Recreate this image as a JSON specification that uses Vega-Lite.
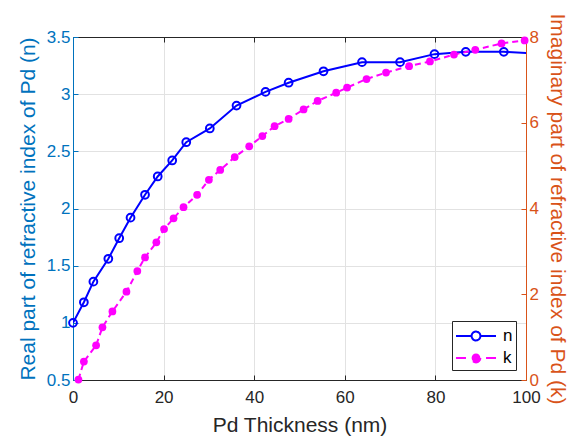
{
  "$schema": "https://vega.github.io/schema/vega-lite/v6.json",
  "width": 453,
  "height": 343,
  "autosize": {"type": "none"},
  "padding": {"left": 73, "top": 37, "right": 49, "bottom": 62},
  "background": "white",
  "config": {
    "font": "Liberation Sans",
    "view": {"stroke": null},
    "axis": {
      "labelFont": "Liberation Sans",
      "titleFont": "Liberation Sans",
      "labelFontSize": 17,
      "titleFontSize": 21,
      "titleFontWeight": "normal",
      "tickSize": -5,
      "tickWidth": 1,
      "domainWidth": 1,
      "gridColor": "#e2e2e2",
      "gridWidth": 1
    },
    "legend": {
      "symbolType": "M-1.82,0L-0.4,0M1.82,0L0.4,0M0.4,0A0.4,0.4,0,1,1,-0.4,0A0.4,0.4,0,1,1,0.4,0",
      "symbolSize": 484,
      "symbolStrokeWidth": 2,
      "symbolOffset": 9,
      "labelOffset": 15,
      "labelFontSize": 17,
      "labelColor": "#000000",
      "labelFont": "Liberation Sans",
      "strokeColor": "#262626",
      "fillColor": "white",
      "padding": 3,
      "rowPadding": 1,
      "cornerRadius": 0
    }
  },
  "datasets": {
    "nData": [
      {"thickness": 0, "value": 1.0, "series": "n"},
      {"thickness": 2.4, "value": 1.18, "series": "n"},
      {"thickness": 4.5, "value": 1.36, "series": "n"},
      {"thickness": 7.8, "value": 1.56, "series": "n"},
      {"thickness": 10.2, "value": 1.74, "series": "n"},
      {"thickness": 12.7, "value": 1.92, "series": "n"},
      {"thickness": 15.9, "value": 2.12, "series": "n"},
      {"thickness": 18.7, "value": 2.28, "series": "n"},
      {"thickness": 21.9, "value": 2.42, "series": "n"},
      {"thickness": 25.0, "value": 2.58, "series": "n"},
      {"thickness": 30.2, "value": 2.70, "series": "n"},
      {"thickness": 36.1, "value": 2.90, "series": "n"},
      {"thickness": 42.5, "value": 3.02, "series": "n"},
      {"thickness": 47.6, "value": 3.10, "series": "n"},
      {"thickness": 55.3, "value": 3.20, "series": "n"},
      {"thickness": 63.8, "value": 3.28, "series": "n"},
      {"thickness": 72.2, "value": 3.28, "series": "n"},
      {"thickness": 79.8, "value": 3.35, "series": "n"},
      {"thickness": 86.7, "value": 3.37, "series": "n"},
      {"thickness": 95.1, "value": 3.37, "series": "n"},
      {"thickness": 102, "value": 3.355, "series": "n"}
    ],
    "kData": [
      {"thickness": 1.2, "value": 0.01, "series": "k"},
      {"thickness": 2.4, "value": 0.43, "series": "k"},
      {"thickness": 5.1, "value": 0.81, "series": "k"},
      {"thickness": 6.5, "value": 1.23, "series": "k"},
      {"thickness": 8.7, "value": 1.6, "series": "k"},
      {"thickness": 11.8, "value": 2.06, "series": "k"},
      {"thickness": 14.2, "value": 2.54, "series": "k"},
      {"thickness": 15.9, "value": 2.86, "series": "k"},
      {"thickness": 18.4, "value": 3.21, "series": "k"},
      {"thickness": 20.1, "value": 3.52, "series": "k"},
      {"thickness": 22.2, "value": 3.77, "series": "k"},
      {"thickness": 24.4, "value": 4.03, "series": "k"},
      {"thickness": 27.4, "value": 4.32, "series": "k"},
      {"thickness": 30.0, "value": 4.67, "series": "k"},
      {"thickness": 32.5, "value": 4.9, "series": "k"},
      {"thickness": 35.7, "value": 5.2, "series": "k"},
      {"thickness": 38.9, "value": 5.45, "series": "k"},
      {"thickness": 41.8, "value": 5.69, "series": "k"},
      {"thickness": 44.5, "value": 5.92, "series": "k"},
      {"thickness": 47.6, "value": 6.09, "series": "k"},
      {"thickness": 50.9, "value": 6.31, "series": "k"},
      {"thickness": 54.0, "value": 6.51, "series": "k"},
      {"thickness": 58.1, "value": 6.70, "series": "k"},
      {"thickness": 60.5, "value": 6.82, "series": "k"},
      {"thickness": 64.8, "value": 7.02, "series": "k"},
      {"thickness": 69.1, "value": 7.17, "series": "k"},
      {"thickness": 74.2, "value": 7.32, "series": "k"},
      {"thickness": 78.8, "value": 7.43, "series": "k"},
      {"thickness": 84.1, "value": 7.59, "series": "k"},
      {"thickness": 88.8, "value": 7.70, "series": "k"},
      {"thickness": 94.6, "value": 7.85, "series": "k"},
      {"thickness": 99.7, "value": 7.92, "series": "k"}
    ]
  },
  "layer": [
    {
      "data": {"name": "nData"},
      "encoding": {
        "x": {
          "field": "thickness", "type": "quantitative",
          "scale": {"domain": [0, 100], "nice": false, "zero": false},
          "axis": {
            "orient": "bottom", "values": [0, 20, 40, 60, 80, 100],
            "title": "Pd Thickness (nm)", "grid": true,
            "domainColor": "#262626", "tickColor": "#262626",
            "labelColor": "#262626", "titleColor": "#262626",
            "labelPadding": 14, "titlePadding": 9, "labelFlush": false
          }
        },
        "y": {
          "field": "value", "type": "quantitative",
          "scale": {"domain": [0.5, 3.5], "nice": false, "zero": false},
          "axis": {
            "orient": "left", "values": [0.5, 1, 1.5, 2, 2.5, 3, 3.5], "format": "~g",
            "title": "Real part of refractive index of Pd (n)", "grid": true,
            "domainColor": "#0072BD", "tickColor": "#0072BD",
            "labelColor": "#0072BD", "titleColor": "#0072BD",
            "labelPadding": 8, "titlePadding": 8
          }
        },
        "color": {
          "field": "series", "type": "nominal",
          "scale": {"domain": ["n", "k"], "range": ["#0000FF", "#FF00FF"]},
          "legend": {
            "title": null, "orient": "bottom-right", "offset": 10,
            "encode": {"symbols": {"update": {
              "fill": [{"test": "datum.value === 'k'", "value": "#FF00FF"}, {"value": "#ffffff"}],
              "fillOpacity": [{"test": "datum.value === 'k'", "value": 1}, {"value": 0}],
              "strokeDash": [{"test": "datum.value === 'k'", "value": [10, 100]}, {"value": [1, 0]}]
            }}}
          }
        }
      },
      "layer": [
        {"mark": {"type": "line", "strokeWidth": 2, "clip": true}},
        {
          "transform": [{"filter": "datum.thickness <= 100"}],
          "mark": {"type": "point", "filled": false, "size": 60, "strokeWidth": 2, "opacity": 1}
        }
      ]
    },
    {
      "data": {"name": "kData"},
      "encoding": {
        "x": {
          "field": "thickness", "type": "quantitative",
          "scale": {"domain": [0, 100], "nice": false, "zero": false},
          "axis": {
            "orient": "top", "values": [0, 20, 40, 60, 80, 100],
            "title": null, "labels": false, "grid": false,
            "domainColor": "#262626", "tickColor": "#262626"
          }
        },
        "y": {
          "field": "value", "type": "quantitative",
          "scale": {"domain": [0, 8], "nice": false, "zero": false},
          "axis": {
            "orient": "right", "values": [0, 2, 4, 6, 8],
            "title": "Imaginary part of refractive index of Pd (k)", "grid": false,
            "domainColor": "#D95319", "tickColor": "#D95319",
            "labelColor": "#D95319", "titleColor": "#D95319",
            "labelPadding": 8, "titlePadding": 8
          }
        },
        "color": {
          "field": "series", "type": "nominal",
          "scale": {"domain": ["n", "k"], "range": ["#0000FF", "#FF00FF"]},
          "legend": {
            "title": null, "orient": "bottom-right", "offset": 10,
            "encode": {"symbols": {"update": {
              "fill": [{"test": "datum.value === 'k'", "value": "#FF00FF"}, {"value": "#ffffff"}],
              "fillOpacity": [{"test": "datum.value === 'k'", "value": 1}, {"value": 0}],
              "strokeDash": [{"test": "datum.value === 'k'", "value": [10, 100]}, {"value": [1, 0]}]
            }}}
          }
        }
      },
      "layer": [
        {"mark": {"type": "line", "strokeWidth": 2, "strokeDash": [6, 4]}},
        {"mark": {"type": "point", "filled": true, "size": 60, "opacity": 1}}
      ]
    }
  ],
  "resolve": {"scale": {"y": "independent"}, "axis": {"x": "independent"}}
}
